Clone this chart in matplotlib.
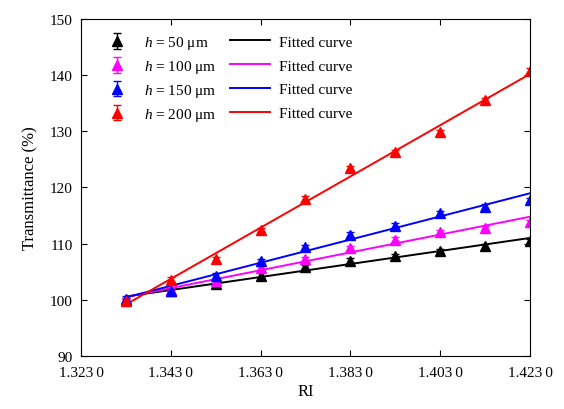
import numpy as np
import matplotlib
matplotlib.use("Agg")
import matplotlib.pyplot as plt

plt.rcParams["font.family"] = ["Liberation Serif", "DejaVu Serif"]
plt.rcParams["mathtext.fontset"] = "custom"
plt.rcParams["mathtext.rm"] = "Liberation Serif"
plt.rcParams["mathtext.it"] = "Liberation Serif:italic"

ri = [1.333, 1.343, 1.353, 1.363, 1.373, 1.383, 1.393, 1.403, 1.413, 1.423]
t_50 = [100.0, 101.5, 102.9, 104.3, 105.8, 107.0, 107.8, 108.7, 109.5, 110.5]
t_100 = [100.0, 101.7, 103.4, 105.6, 107.3, 109.2, 110.7, 112.0, 112.8, 113.8]
t_150 = [100.2, 101.6, 104.3, 106.9, 109.4, 111.6, 113.2, 115.4, 116.6, 117.8]
t_200 = [99.8, 103.6, 107.2, 112.4, 118.0, 123.5, 126.3, 129.8, 135.5, 140.8]
err = [0.4] * len(ri)

series = [("50", t_50, "black"), ("100", t_100, "#ff00ff"),
          ("150", t_150, "#0000ff"), ("200", t_200, "#ff0000")]

xticks = [1.323, 1.343, 1.363, 1.383, 1.403, 1.423]
xticklabels = ["1.323\u20090", "1.343\u20090", "1.363\u20090",
               "1.383\u20090", "1.403\u20090", "1.423\u20090"]
yticks = [90, 100, 110, 120, 130, 140, 150]

fig = plt.figure(figsize=(5.64, 4.10), dpi=100)
ax = fig.add_axes([0.1436, 0.1293, 0.7961, 0.8219])

x = np.array(ri)
pts, fits = [], []
for h, vals, c in series:
    e = ax.errorbar(ri, vals, yerr=err, fmt="^", color=c, ms=7, capsize=3,
                    elinewidth=1, label=f"$h$ = {h} μm")
    k, b = np.polyfit(x, vals, 1)
    ln, = ax.plot(x, k * x + b, color=c, lw=1.4, label="Fitted curve")
    pts.append(e)
    fits.append(ln)

ax.set_xlim(1.323, 1.423)
ax.set_ylim(90, 150)
ax.set_xticks(xticks)
ax.set_xticklabels(xticklabels)
ax.set_yticks(yticks)
ax.tick_params(direction="in", top=True, right=True, length=4, labelsize=11)
ax.tick_params(axis="x", pad=7)
ax.tick_params(axis="y", pad=6)
ax.set_xlabel("RI", fontsize=12, labelpad=3)
ax.set_ylabel("Transmittance (%)", fontsize=12, labelpad=8)

# two legends so each column can get its own row spacing and stay aligned
leg1 = ax.legend(pts, [p.get_label() for p in pts], loc="upper left",
                 frameon=False, fontsize=11, bbox_to_anchor=(0.015, 0.995),
                 handlelength=2.0, labelspacing=0.45, handletextpad=0.8)
ax.add_artist(leg1)
ax.legend(fits, [f.get_label() for f in fits], loc="upper left",
          frameon=False, fontsize=11, bbox_to_anchor=(0.302, 0.993),
          handlelength=2.6, labelspacing=0.66, handletextpad=0.6)

fig.savefig("out.png", dpi=100)
